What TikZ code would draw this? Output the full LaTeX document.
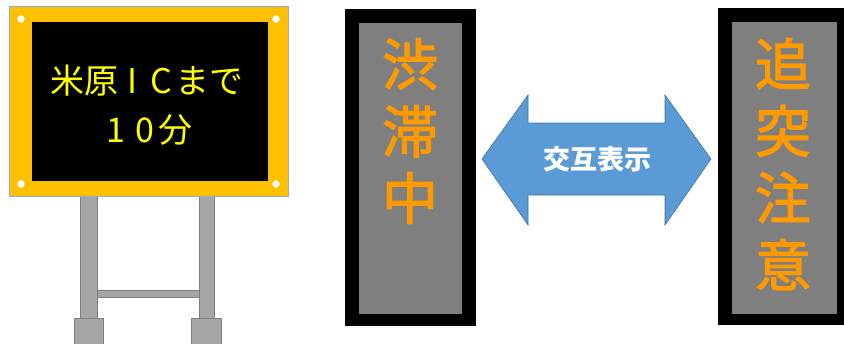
\documentclass[tikz,border=0pt]{standalone}
\usepackage{fontspec}
\newfontfamily\cjk{Noto Sans CJK JP}
\newfontfamily\cjkmed[FakeBold=2]{Noto Sans CJK JP}
\definecolor{signyellow}{HTML}{FFC000}
\definecolor{ledyellow}{HTML}{FFFF00}
\definecolor{ledorange}{HTML}{FF9900}
\definecolor{panelgray}{HTML}{7F7F7F}
\definecolor{postgray}{HTML}{A6A6A6}
\definecolor{postedge}{HTML}{7F7F7F}
\definecolor{arrowblue}{HTML}{5B9BD5}
\definecolor{arrowedge}{HTML}{41719C}
\definecolor{boardedge}{HTML}{8FAADC}
\tikzset{
  post/.style={fill=postgray, draw=postedge, line width=0.8pt},
  led/.style={fill=black},
  screen/.style={fill=panelgray},
  hole/.style={fill=white, draw=white!85!gray, line width=0.3pt},
  vtext/.style={text=ledorange, align=center, inner sep=0pt,
    font=\cjkmed\fontsize{56}{67}\selectfont},
}
\begin{document}
\begin{tikzpicture}[x=1pt,y=-1pt]
\useasboundingbox (0,0) rectangle (844,343);
% --- roadside sign ---
\draw[post] (80,190) rectangle (97,320);
\draw[post] (199,190) rectangle (214,320);
\draw[post] (97,290) rectangle (199,297);
\draw[post] (74,318) rectangle (103,346);
\draw[post] (191,318) rectangle (221,346);
\draw[fill=signyellow, draw=boardedge, line width=0.6pt] (9,6) rectangle (288,196);
\fill[black] (32,22) rectangle (268,181);
\foreach \p in {(21,19),(276,19),(21,184),(276,184)} \draw[hole] \p circle (3.6);
\node[text=ledyellow, align=center, inner sep=0pt,
  font=\cjk\fontsize{34}{49}\selectfont] (signtext) at (147,105)
  {米原\makebox[0.85em]{I}\makebox[0.85em]{C}まで\\\makebox[0.85em]{1}\makebox[0.85em]{0}分};
% --- middle panel ---
\fill[led] (345,9) rectangle (476,326);
\fill[screen] (359,23) rectangle (462,314);
\node[vtext] (left) at (410,131) {渋\\滞\\中};
% --- right panel ---
\fill[led] (718,8) rectangle (844,325);
\fill[screen] (732,22) rectangle (837,314);
\node[vtext] (right) at (783,164) {追\\突\\注\\意};
% --- double arrow ---
\draw[fill=arrowblue, draw=arrowedge, line width=0.6pt]
  (482,159) -- (528,95) -- (528,123) -- (665,123) -- (665,95) -- (711,159)
  -- (665,225) -- (665,195) -- (528,195) -- (528,225) -- cycle;
\node[text=white, inner sep=0pt, font=\cjk\bfseries\fontsize{27}{30}\selectfont] (alt) at (597,159) {交互表示};
\end{tikzpicture}
\end{document}
